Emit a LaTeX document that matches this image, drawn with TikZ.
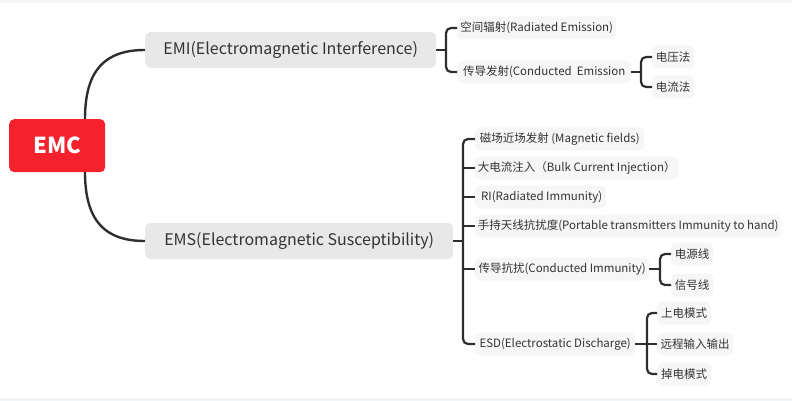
\documentclass[tikz,border=0pt]{standalone}
\usepackage{fontspec}
\setmainfont{Noto Sans CJK SC}
\definecolor{emcred}{HTML}{F5222D}
\definecolor{maingray}{HTML}{E8E8E8}
\definecolor{leafgray}{HTML}{F6F6F6}
\definecolor{linec}{HTML}{2E2E2E}
\definecolor{txt}{HTML}{333333}
\definecolor{strip}{HTML}{F3F6F9}
\begin{document}
\begin{tikzpicture}[x=1pt,y=-1pt,
 rootnode/.style={fill=emcred, rounded corners=5pt, text=white, font=\fontsize{22}{26}\selectfont\bfseries, minimum width=96pt, minimum height=53pt, inner sep=0pt},
 mainnode/.style={fill=maingray, rounded corners=5pt, text=txt, font=\fontsize{16}{19}\selectfont, minimum height=36pt, inner sep=0pt, anchor=west},
 leaf/.style={fill=leafgray, rounded corners=5pt, text=txt, font=\fontsize{11.5}{14}\selectfont, minimum height=23pt, inner sep=0pt, anchor=west},
 conn/.style={draw=linec, line width=2.4pt},
 brk/.style={draw=linec, line width=2.2pt, rounded corners=5pt}]
\fill[strip] (0,0) rectangle (792,3);
\fill[strip] (0,398) rectangle (792,401);
\useasboundingbox (0,0) rectangle (792,401);

\node[rootnode, anchor=north west] (emc) at (9,119) {EMC};
\node[mainnode, minimum width=291pt] (emi) at (145,50) {EMI(Electromagnetic Interference)};
\node[mainnode, minimum width=308pt] (ems) at (145,241) {EMS(Electromagnetic Susceptibility)};
\node[leaf, minimum width=159pt] (re) at (457,28) {空间辐射(Radiated Emission)};
\node[leaf, minimum width=174pt] (ce) at (457,72) {传导发射(Conducted\ \ Emission};
\node[leaf, minimum width=42pt] (cev) at (652,57) {电压法};
\node[leaf, minimum width=42pt] (cei) at (652,87) {电流法};
\node[leaf, minimum width=169pt] (mf) at (475,139) {磁场近场发射 (Magnetic fields)};
\node[leaf, minimum width=203pt] (bci) at (475,168) {大电流注入（Bulk Current Injection）};
\node[leaf, minimum width=131pt] (ri) at (475,197) {\hspace{2pt}RI(Radiated Immunity)};
\node[leaf, minimum width=306pt] (pt) at (475,226) {手持天线抗扰度(Portable transmitters Immunity to hand)};
\node[leaf, minimum width=174pt] (ci) at (475,269) {传导抗扰(Conducted Immunity)};
\node[leaf, minimum width=42pt] (cip) at (671,254) {电源线};
\node[leaf, minimum width=42pt] (cis) at (671,285) {信号线};
\node[leaf, minimum width=160pt] (esd) at (475,344) {ESD(Electrostatic Discharge)};
\node[leaf, minimum width=54pt] (esd1) at (657,313) {上电模式};
\node[leaf, minimum width=76pt] (esd2) at (657,344) {远程输入输出};
\node[leaf, minimum width=54pt] (esd3) at (657,374) {掉电模式};

\coordinate (emcT) at (85,119);
\coordinate (emcB) at (85,172);
\draw[conn] (emcT) .. controls (85,70) and (105,50) .. (emi.west);
\draw[conn] (emcB) .. controls (85,221) and (105,241) .. (ems.west);

\coordinate (b1) at (446,50);
\draw[brk] (emi.east) -- (b1);
\draw[brk] (re.west) -| (b1) |- (ce.west);

\coordinate (b2) at (641,72);
\draw[brk] (ce.east) -- (b2);
\draw[brk] (cev.west) -| (b2) |- (cei.west);

\coordinate (b3) at (463,241);
\draw[brk] (ems.east) -- (b3);
\draw[brk] (mf.west) -| (b3) |- (esd.west);
\draw[brk] (b3 |- bci.west) -- (bci.west);
\draw[brk] (b3 |- ri.west) -- (ri.west);
\draw[brk] (b3 |- pt.west) -- (pt.west);
\draw[brk] (b3 |- ci.west) -- (ci.west);

\coordinate (b4) at (660,269);
\draw[brk] (ci.east) -- (b4);
\draw[brk] (cip.west) -| (b4) |- (cis.west);

\coordinate (b5) at (647,344);
\draw[brk] (esd.east) -- (b5);
\draw[brk] (esd1.west) -| (b5) |- (esd3.west);
\draw[brk] (b5) -- (esd2.west);
\end{tikzpicture}
\end{document}
